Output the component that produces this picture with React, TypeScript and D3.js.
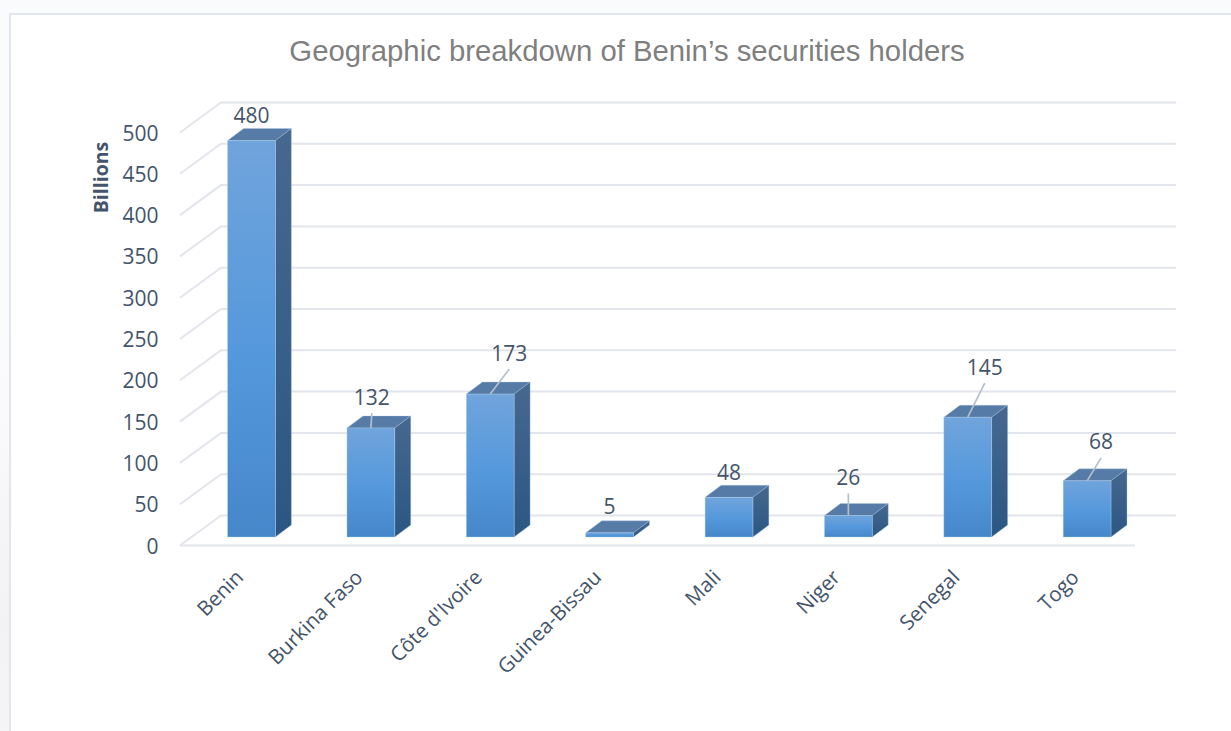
import React from "react";
import * as d3 from "d3";

const countries = ["Benin", "Burkina Faso", "Côte d'Ivoire", "Guinea-Bissau", "Mali", "Niger", "Senegal", "Togo"];
const holdings = [480, 132, 173, 5, 48, 26, 145, 68];
const yTicks = [0, 50, 100, 150, 200, 250, 300, 350, 400, 450, 500];

// where each data label sits, relative to the middle of the bar's top edge
const labelDx = [0, 1, 19, 0, 0, 0, 17, 14];
const labelDy = [-25, -31, -41, -26, -25, -38, -50, -39];
const hasLeader = [false, true, true, false, false, true, true, true];

const width = 1231;
const height = 731;
const floorLeft = 180;
const floorRight = 1135;
const floorY = 545.5;
const depthX = 41; // 3d depth of the chart box
const depthY = 30;
const barDepthX = 16;
const barDepthY = 12;
const barShiftX = 11.8; // bars stand part way into the floor
const barShiftY = 8.5;

const labelFont = "'Open Sans', sans-serif";
const labelColor = "#44546a";
const gridColor = "#e3e5ec";
const edgeColor = "#a9c8e8";

const x = d3.scaleBand<string>().domain(countries).range([floorLeft, floorRight]).paddingInner(0.6).paddingOuter(0.3);
const y = d3.scaleLinear().domain([0, 500]).range([floorY, floorY - 413]);

export default function App() {
  const line = d3.line();
  return (
    <svg
      width={width}
      height={height}
      style={{ position: "absolute", left: 0, top: 0, display: "block" }}
    >
      <defs>
        <linearGradient id="page" x1="0" y1="0" x2="0" y2="1">
          <stop offset="0" stopColor="#fafbfd" />
          <stop offset="0.55" stopColor="#fafafb" />
          <stop offset="0.85" stopColor="#f2f2f3" />
          <stop offset="1" stopColor="#f6f5f5" />
        </linearGradient>
        <linearGradient id="front" x1="0" y1="0" x2="0" y2="1">
          <stop offset="0" stopColor="#70a4dc" />
          <stop offset="0.55" stopColor="#5498dc" />
          <stop offset="1" stopColor="#4587c9" />
        </linearGradient>
        <linearGradient id="side" x1="0" y1="0" x2="0" y2="1">
          <stop offset="0" stopColor="#47688f" />
          <stop offset="1" stopColor="#2a5782" />
        </linearGradient>
      </defs>

      <rect width={width} height={height} fill="url(#page)" />
      <rect x={10} y={14} width={width} height={height} fill="#ffffff" stroke="#e1e5ee" strokeWidth={2} />

      <text x={627} y={61} textAnchor="middle" fontFamily="'Liberation Sans', Arial, sans-serif" fontSize={29.3} fill="#7f7f7f">
        Geographic breakdown of Benin’s securities holders
      </text>

      {/* wall gridlines with their diagonal on the side wall */}
      <g fill="none" stroke={gridColor} strokeWidth={2}>
        {yTicks.map((t) => (
          <path
            key={t}
            d={
              line([
                [floorLeft, y(t)],
                [floorLeft + depthX, y(t) - depthY],
                [floorRight + depthX, y(t) - depthY],
              ]) as string
            }
          />
        ))}
        <path d={line([[floorLeft, y(0)], [floorRight, y(0)]]) as string} />
      </g>

      <g fontFamily={labelFont} fontSize={21} fill={labelColor} textAnchor="end">
        {yTicks.map((t) => (
          <text key={t} x={158.5} y={y(t) + 0.5} dy="0.36em">
            {t}
          </text>
        ))}
      </g>
      <text
        transform="translate(100.5,177.5) rotate(-90)"
        textAnchor="middle"
        dy="0.36em"
        fontFamily={labelFont}
        fontWeight={700}
        fontSize={19.5}
        fill={labelColor}
      >
        Billions
      </text>

      {countries.map((c, i) => {
        const w = x.bandwidth();
        const x0 = (x(c) as number) + barShiftX;
        const x1 = x0 + w;
        const yb = floorY - barShiftY;
        const yt = y(holdings[i]) - barShiftY;
        const cx = x0 + w / 2;
        return (
          <g key={c}>
            <path
              d={(line([[x0, yt], [x0 + barDepthX, yt - barDepthY], [x1 + barDepthX, yt - barDepthY], [x1, yt]]) as string) + "Z"}
              fill="#567ba6"
              stroke={edgeColor}
              strokeOpacity={0.5}
              strokeWidth={0.7}
            />
            <path
              d={(line([[x1, yt], [x1 + barDepthX, yt - barDepthY], [x1 + barDepthX, yb - barDepthY], [x1, yb]]) as string) + "Z"}
              fill="url(#side)"
              stroke={edgeColor}
              strokeOpacity={0.5}
              strokeWidth={0.7}
            />
            <rect x={x0} y={yt} width={w} height={yb - yt} fill="url(#front)" stroke={edgeColor} strokeOpacity={0.6} strokeWidth={0.7} />
            {hasLeader[i] && (
              <path
                d={line([[cx, yt], [cx + labelDx[i], yt + labelDy[i] + 16]]) as string}
                stroke="#b4bfcc"
                strokeWidth={1.7}
                fill="none"
              />
            )}
            <text
              x={cx + labelDx[i]}
              y={yt + labelDy[i]}
              dy="0.36em"
              textAnchor="middle"
              fontFamily={labelFont}
              fontSize={21}
              fill={labelColor}
            >
              {holdings[i]}
            </text>
            <text
              transform={`translate(${cx - 17},${floorY + 23}) rotate(-45)`}
              dy="0.7em"
              textAnchor="end"
              fontFamily={labelFont}
              fontSize={20.5}
              fill={labelColor}
            >
              {c}
            </text>
          </g>
        );
      })}
    </svg>
  );
}
